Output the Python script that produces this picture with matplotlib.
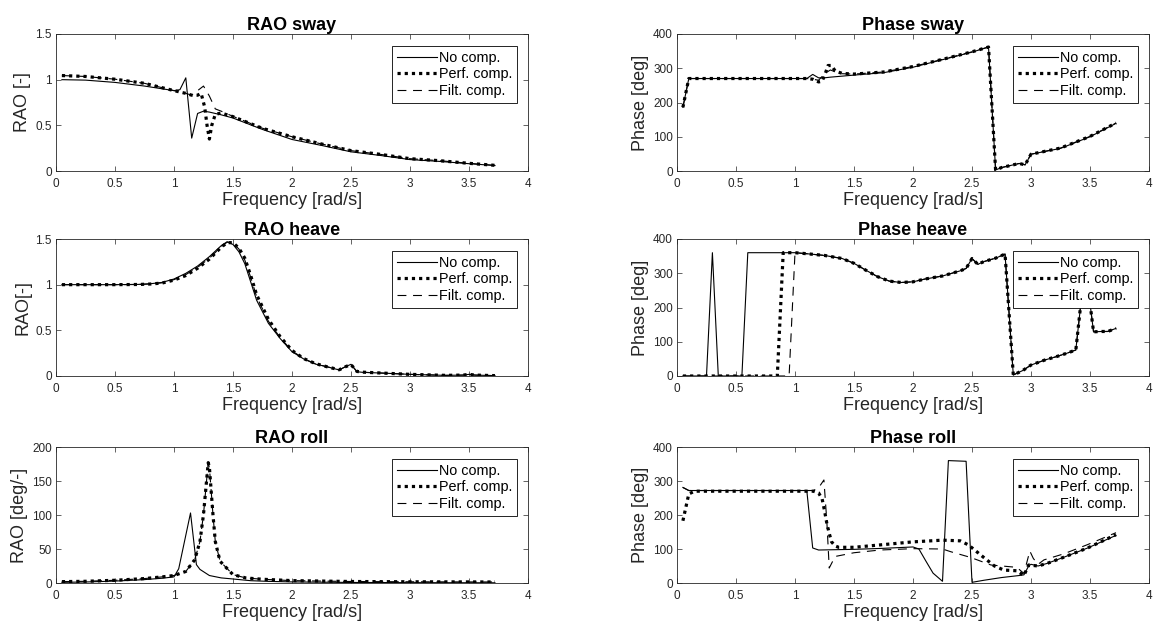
import matplotlib
matplotlib.use('Agg')
import matplotlib.pyplot as plt
from matplotlib.ticker import FuncFormatter, MultipleLocator

plt.rcParams['font.family'] = ['Liberation Sans', 'DejaVu Sans']

# ---------------- data ----------------
legend_labels = ['No comp.', 'Perf. comp.', 'Filt. comp.']

# RAO sway
sway_f_nc = [0.05, 0.25, 0.5, 0.75, 1.0, 1.05, 1.1, 1.15, 1.2, 1.25, 1.3, 1.4, 1.5, 1.75, 2.0, 2.25, 2.5, 2.75, 3.0, 3.25, 3.5, 3.72]
sway_nc = [1.0, 0.995, 0.97, 0.93, 0.88, 0.89, 1.02, 0.36, 0.63, 0.655, 0.645, 0.615, 0.58, 0.455, 0.345, 0.28, 0.21, 0.17, 0.125, 0.105, 0.08, 0.06]
sway_f_pc = [0.05, 0.25, 0.5, 0.75, 1.0, 1.1, 1.15, 1.2, 1.23, 1.26, 1.28, 1.3, 1.32, 1.35, 1.4, 1.5, 1.75, 2.0, 2.25, 2.5, 2.75, 3.0, 3.25, 3.5, 3.72]
sway_pc = [1.045, 1.035, 1.005, 0.96, 0.88, 0.85, 0.83, 0.83, 0.85, 0.70, 0.50, 0.35, 0.50, 0.62, 0.635, 0.595, 0.467, 0.375, 0.296, 0.223, 0.182, 0.135, 0.113, 0.084, 0.062]
sway_f_fc = [0.05, 0.25, 0.5, 0.75, 1.0, 1.1, 1.15, 1.2, 1.25, 1.3, 1.35, 1.4, 1.5, 1.75, 2.0, 2.25, 2.5, 2.75, 3.0, 3.25, 3.5, 3.72]
sway_fc = [1.045, 1.035, 1.005, 0.96, 0.88, 0.85, 0.83, 0.88, 0.93, 0.82, 0.68, 0.655, 0.598, 0.468, 0.375, 0.296, 0.223, 0.182, 0.135, 0.113, 0.084, 0.062]

# Phase sway
psway_f_nc = [0.05, 0.1, 0.5, 1.0, 1.1, 1.15, 1.2, 1.25, 1.3, 1.4, 1.5, 1.75, 2.0, 2.25, 2.5, 2.64, 2.7, 2.75, 2.9, 2.95, 3.0, 3.25, 3.5, 3.72]
psway_nc = [186, 270, 270, 270, 270, 282, 272, 272, 274, 277, 280, 287, 303, 325, 347, 362, 3, 10, 22, 18, 49, 66, 100, 139]
psway_f_pc = [0.05, 0.1, 0.5, 1.0, 1.1, 1.15, 1.2, 1.23, 1.26, 1.28, 1.31, 1.34, 1.4, 1.5, 1.75, 2.0, 2.25, 2.5, 2.64, 2.7, 2.75, 2.9, 2.95, 3.0, 3.25, 3.5, 3.72]
psway_pc = [186, 270, 270, 270, 270, 268, 260, 262, 288, 308, 308, 292, 285, 283, 289, 305, 326, 348, 362, 3, 10, 22, 18, 49, 67, 101, 140]
psway_f_fc = [0.05, 0.1, 0.5, 1.0, 1.1, 1.15, 1.2, 1.25, 1.3, 1.35, 1.4, 1.5, 1.75, 2.0, 2.25, 2.5, 2.64, 2.7, 2.75, 2.9, 2.95, 3.0, 3.25, 3.5, 3.72]
psway_fc = [186, 270, 270, 270, 270, 268, 265, 284, 295, 288, 284, 283, 289, 305, 326, 348, 362, 3, 10, 22, 18, 49, 67, 101, 140]

# RAO heave
heave_f = [0.05, 0.3, 0.5, 0.7, 0.8, 0.9, 1.0, 1.1, 1.2, 1.3, 1.4, 1.45, 1.5, 1.55, 1.6, 1.65, 1.7, 1.8, 1.9, 2.0, 2.1, 2.2, 2.3, 2.4, 2.45, 2.5, 2.55, 2.6, 2.8, 3.0, 3.3, 3.45, 3.5, 3.55, 3.72]
heave_nc = [1.0, 1.0, 1.0, 1.003, 1.01, 1.025, 1.062, 1.124, 1.204, 1.307, 1.427, 1.47, 1.44, 1.36, 1.23, 1.03, 0.83, 0.577, 0.41, 0.266, 0.186, 0.13, 0.10, 0.066, 0.10, 0.128, 0.047, 0.04, 0.03, 0.018, 0.007, 0.01, 0.018, 0.01, 0.004]
heave_pc = [1.0, 1.0, 1.0, 1.002, 1.007, 1.018, 1.05, 1.10, 1.18, 1.28, 1.41, 1.46, 1.46, 1.40, 1.29, 1.10, 0.89, 0.62, 0.43, 0.28, 0.19, 0.135, 0.10, 0.068, 0.10, 0.125, 0.05, 0.042, 0.03, 0.018, 0.007, 0.01, 0.018, 0.01, 0.004]
heave_fc = [1.0, 1.0, 1.0, 1.002, 1.008, 1.02, 1.055, 1.11, 1.19, 1.29, 1.415, 1.465, 1.455, 1.39, 1.27, 1.08, 0.87, 0.60, 0.42, 0.275, 0.19, 0.133, 0.10, 0.067, 0.10, 0.126, 0.049, 0.041, 0.03, 0.018, 0.007, 0.01, 0.018, 0.01, 0.004]

# Phase heave
pheave_f_nc = [0.05, 0.25, 0.3, 0.35, 0.55, 0.6, 1.0, 1.1, 1.25, 1.4, 1.5, 1.6, 1.7, 1.8, 1.9, 2.0, 2.1, 2.25, 2.4, 2.45, 2.5, 2.55, 2.6, 2.7, 2.78, 2.85, 2.93, 3.0, 3.12, 3.21, 3.3, 3.38, 3.45, 3.5, 3.53, 3.6, 3.65, 3.72]
pheave_nc = [0, 0, 360, 0, 0, 360, 360, 357, 352, 343, 329, 309, 290, 277, 273, 275, 283, 292, 307, 314, 343, 326, 334, 344, 356, 3, 16, 32, 47, 56, 66, 76, 300, 212, 129, 130, 130, 139]
pheave_f_pc = [0.05, 0.85, 0.9, 1.0, 1.1, 1.25, 1.4, 1.5, 1.6, 1.7, 1.8, 1.9, 2.0, 2.1, 2.25, 2.4, 2.45, 2.5, 2.55, 2.6, 2.7, 2.78, 2.85, 2.93, 3.0, 3.12, 3.21, 3.3, 3.38, 3.45, 3.5, 3.53, 3.6, 3.65, 3.72]
pheave_pc = [0, 0, 360, 360, 357, 352, 343, 329, 309, 290, 277, 273, 275, 283, 292, 307, 314, 343, 326, 334, 344, 356, 3, 16, 32, 47, 56, 66, 76, 300, 212, 129, 130, 130, 139]
pheave_f_fc = [0.05, 0.95, 1.0, 1.1, 1.25, 1.4, 1.5, 1.6, 1.7, 1.8, 1.9, 2.0, 2.1, 2.25, 2.4, 2.45, 2.5, 2.55, 2.6, 2.7, 2.78, 2.85, 2.93, 3.0, 3.12, 3.21, 3.3, 3.38, 3.45, 3.5, 3.53, 3.6, 3.65, 3.72]
pheave_fc = [0, 0, 360, 357, 352, 343, 329, 309, 290, 277, 273, 275, 283, 292, 307, 314, 343, 326, 334, 344, 356, 3, 16, 32, 47, 56, 66, 76, 300, 212, 129, 130, 130, 139]

# RAO roll
roll_f_nc = [0.05, 0.25, 0.5, 0.75, 0.9, 1.0, 1.04, 1.14, 1.19, 1.22, 1.3, 1.4, 1.5, 1.65, 1.8, 2.0, 2.5, 3.0, 3.72]
roll_nc = [1.0, 1.5, 2.8, 5.0, 7.0, 9.0, 21, 103, 27, 20, 11, 7.5, 5.9, 3.4, 2.4, 1.6, 0.8, 0.5, 0.3]
roll_f_pc = [0.05, 0.25, 0.5, 0.75, 0.9, 1.0, 1.1, 1.175, 1.22, 1.25, 1.29, 1.30, 1.33, 1.35, 1.39, 1.5, 1.61, 1.75, 2.0, 2.5, 3.0, 3.72]
roll_pc = [2.0, 2.5, 4.0, 6.5, 9.0, 11, 17, 34, 61, 101, 177, 170, 101, 61, 32, 12.3, 7.4, 5.5, 3.5, 2.2, 1.8, 1.5]
roll_fc = [2.0, 2.5, 4.0, 6.5, 9.0, 11, 17, 34, 61, 101, 177, 170, 101, 61, 32, 12.3, 7.4, 5.5, 3.5, 2.2, 1.8, 1.5]

# Phase roll
proll_f_nc = [0.05, 0.1, 1.1, 1.15, 1.2, 1.5, 1.75, 2.0, 2.05, 2.11, 2.17, 2.25, 2.3, 2.45, 2.5, 2.6, 2.75, 2.9, 2.94, 2.98, 3.0, 3.06, 3.14, 3.28, 3.48, 3.72]
proll_nc = [281, 272, 272, 103, 97, 99, 102, 106, 100, 64, 29, 5, 360, 358, 2, 8, 16, 22, 24, 50, 55, 50, 58, 76, 103, 140]
proll_f_pc = [0.05, 0.1, 0.15, 1.155, 1.2, 1.23, 1.25, 1.27, 1.29, 1.31, 1.34, 1.37, 1.5, 1.72, 2.0, 2.25, 2.4, 2.47, 2.6, 2.69, 2.77, 2.88, 2.94, 2.98, 3.06, 3.14, 3.28, 3.48, 3.72]
proll_pc = [183, 262, 270, 270, 265, 247, 213, 175, 146, 121, 109, 105, 105, 112, 121, 126, 124, 112, 75, 50, 38, 36, 22, 53, 50, 58, 76, 103, 142]
proll_f_fc = [0.05, 0.1, 1.155, 1.2, 1.245, 1.27, 1.29, 1.34, 1.5, 1.72, 2.0, 2.25, 2.32, 2.49, 2.66, 2.88, 2.94, 2.99, 3.02, 3.06, 3.11, 3.28, 3.48, 3.72]
proll_fc = [281, 272, 272, 280, 303, 180, 44, 78, 89, 97, 101, 100, 92, 75, 53, 46, 28, 94, 72, 55, 68, 86, 113, 148]

# ---------------- figure ----------------
W, H = 1157, 627
fig = plt.figure(figsize=(W / 100, H / 100), dpi=100)

def ax_at(x0, y0, x1, y1):
    return fig.add_axes([x0 / W, 1 - y1 / H, (x1 - x0) / W, (y1 - y0) / H])

cols = [(56, 528), (677, 1149)]
rows = [(34, 171), (239, 376), (447, 583)]

panels = [
    dict(r=0, c=0, title='RAO sway', ylabel='RAO [-]', ylim=(0, 1.5), ystep=0.5,
         data=[(sway_f_nc, sway_nc), (sway_f_pc, sway_pc), (sway_f_fc, sway_fc)]),
    dict(r=0, c=1, title='Phase sway', ylabel='Phase [deg]', ylim=(0, 400), ystep=100,
         data=[(psway_f_nc, psway_nc), (psway_f_pc, psway_pc), (psway_f_fc, psway_fc)]),
    dict(r=1, c=0, title='RAO heave', ylabel='RAO[-]', ylim=(0, 1.5), ystep=0.5,
         data=[(heave_f, heave_nc), (heave_f, heave_pc), (heave_f, heave_fc)]),
    dict(r=1, c=1, title='Phase heave', ylabel='Phase [deg]', ylim=(0, 400), ystep=100,
         data=[(pheave_f_nc, pheave_nc), (pheave_f_pc, pheave_pc), (pheave_f_fc, pheave_fc)]),
    dict(r=2, c=0, title='RAO roll', ylabel='RAO [deg/-]', ylim=(0, 200), ystep=50,
         data=[(roll_f_nc, roll_nc), (roll_f_pc, roll_pc), (roll_f_pc, roll_fc)]),
    dict(r=2, c=1, title='Phase roll', ylabel='Phase [deg]', ylim=(0, 400), ystep=100,
         data=[(proll_f_nc, proll_nc), (proll_f_pc, proll_pc), (proll_f_fc, proll_fc)]),
]

gray = (0.15, 0.15, 0.15)
fmt = FuncFormatter(lambda v, p: '%g' % v)

styles = [dict(color='black', lw=0.8, linestyle='-'),
          dict(color='black', lw=2.3, linestyle=(0, (1, 1.25))),
          dict(color='black', lw=0.8, linestyle=(0, (8, 6)))]

for p in panels:
    x0, x1 = cols[p['c']]
    y0, y1 = rows[p['r']]
    ax = ax_at(x0, y0, x1, y1)
    handles = []
    for (f, v), st, lab in zip(p['data'], styles, legend_labels):
        h, = ax.plot(f, v, label=lab, **st)
        handles.append(h)
    ax.set_xlim(0, 4)
    ax.set_ylim(*p['ylim'])
    ax.xaxis.set_major_locator(MultipleLocator(0.5))
    ax.yaxis.set_major_locator(MultipleLocator(p['ystep']))
    ax.xaxis.set_major_formatter(fmt)
    ax.yaxis.set_major_formatter(fmt)
    ax.tick_params(direction='in', top=True, right=True, length=3.5, width=0.5,
                   labelsize=8.5, colors=gray)
    ax.tick_params(axis='x', pad=5)
    ax.tick_params(axis='y', pad=3)
    for s in ax.spines.values():
        s.set_linewidth(0.6)
        s.set_color(gray)
    ax.set_title(p['title'], fontsize=13, fontweight='bold', pad=3)
    ax.set_xlabel('Frequency [rad/s]', fontsize=13, color=gray, labelpad=1.5)
    ax.set_ylabel(p['ylabel'], fontsize=13, color=gray, labelpad=3)
    leg = ax.legend(handles=handles, loc='upper right', bbox_to_anchor=(0.977, 0.914),
                    borderaxespad=0, fontsize=10.4, frameon=True, fancybox=False,
                    framealpha=1, edgecolor='black', handlelength=2.75,
                    handletextpad=0.15, labelspacing=0.18, borderpad=0.35)
    leg.get_frame().set_linewidth(0.6)
    leg.set_zorder(10)

fig.savefig('out.png', dpi=100)
